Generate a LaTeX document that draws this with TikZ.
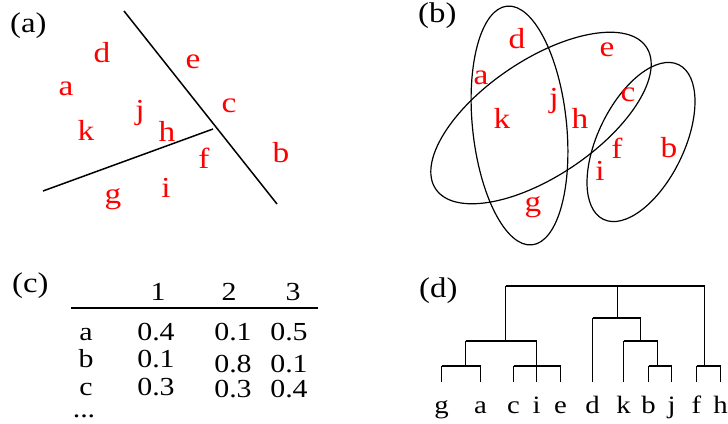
\documentclass[tikz,border=0pt]{standalone}
\usepackage{fontspec}
\setmainfont[FakeStretch=1.15]{Liberation Serif}
\begin{document}
\begin{tikzpicture}[x=1pt,y=-1pt,
  lbl/.style={inner sep=0pt, anchor=base west, font=\fontsize{28.5}{30}\selectfont},
  pt/.style={inner sep=0pt, anchor=base, text=red, font=\fontsize{29}{31}\selectfont},
  tab/.style={inner sep=0pt, anchor=base, font=\fontsize{26}{28}\selectfont},
  leaf/.style={inner sep=0pt, anchor=base, font=\fontsize{25}{28}\selectfont},
  ln/.style={line width=1.5pt},
  el/.style={line width=1.2pt},
  tree/.style={line width=1.4pt},
]
\useasboundingbox (0,0) rectangle (728,423);
% ---------- (a)
\node[lbl] (la) at (10,32) {(a)};
\coordinate (s1a) at (124,11); \coordinate (s1b) at (277,204);
\coordinate (s2a) at (43,191); \coordinate (s2b) at (213,129);
\draw[ln] (s1a) -- (s1b);
\draw[ln] (s2a) -- (s2b);
\node[pt] (ad) at (102,62) {d};
\node[pt] (ae) at (193,68) {e};
\node[pt] (aa) at (66,95) {a};
\node[pt] (ac) at (229,112) {c};
\node[pt] (aj) at (140,119) {j};
\node[pt] (ak) at (86,140) {k};
\node[pt] (ah) at (167,141) {h};
\node[pt] (ab) at (281,162) {b};
\node[pt] (af) at (204,168) {f};
\node[pt] (ai) at (166,197) {i};
\node[pt] (ag) at (113,203) {g};
% ---------- (b)
\node[lbl] (lb) at (418,23) {(b)};
\draw[el, rotate around={6:(519.5,125.5)}] (519.5,125.5) ellipse[x radius=47pt, y radius=120pt];
\draw[el, rotate around={34:(541,118)}] (541,118) ellipse[x radius=127pt, y radius=58pt];
\draw[el, rotate around={64:(641,142)}] (641,142) ellipse[x radius=86pt, y radius=43pt];
\node[pt] (bd) at (517,48) {d};
\node[pt] (be) at (607,56) {e};
\node[pt] (ba) at (481,84) {a};
\node[pt] (bc) at (628,101) {c};
\node[pt] (bj) at (554,107) {j};
\node[pt] (bk) at (502,128) {k};
\node[pt] (bh) at (580,128) {h};
\node[pt] (bf) at (617,158) {f};
\node[pt] (bb) at (669,157) {b};
\node[pt] (bi) at (600,180) {i};
\node[pt] (bg) at (533,211) {g};
% ---------- (c)
\node[lbl] (lc) at (12,292) {(c)};
\node[tab] (h1) at (158,300) {1};
\node[tab] (h2) at (229,300) {2};
\node[tab] (h3) at (293,300) {3};
\coordinate (r0) at (71,308); \coordinate (r1) at (318,308);
\draw[el] (r0) -- (r1);
\node[tab] (ra) at (86,340) {a};
\node[tab] (a1) at (156,340) {0.4};
\node[tab] (a2) at (233,340) {0.1};
\node[tab] (a3) at (289,340) {0.5};
\node[tab] (rb) at (86,367) {b};
\node[tab] (b1) at (156,367) {0.1};
\node[tab] (b2) at (233,372) {0.8};
\node[tab] (b3) at (289,372) {0.1};
\node[tab] (rc) at (86,395) {c};
\node[tab] (c1) at (156,395) {0.3};
\node[tab] (c2) at (233,397) {0.3};
\node[tab] (c3) at (289,397) {0.4};
\node[tab] (rd) at (84,417) {...};
% ---------- (d)
\node[lbl] (ld) at (419,297) {(d)};
\foreach \n/\x in {g/441.5,a/480.5,c/513.5,i/536.5,e/560.5,d/592.5,k/623.5,b/648.5,j/671.5,f/696.5,h/720.5}{
  \node[leaf] (L\n) at (\x,413) {\n};
}
\foreach \n/\x/\y in {g/441.5/366,a/480.5/366,c/513.5/366,i/536.5/341,e/560.5/366,d/592.5/318,k/623.5/341,b/648.5/366,j/671.5/366,f/696.5/366,h/720.5/366}{
  \coordinate (T\n) at (\x,\y);
  \coordinate (B\n) at (\x,382);
  \draw[tree] (T\n) -- (B\n);
}
\coordinate (ga) at (465.5,366);
\coordinate (gac) at (465.5,341);
\coordinate (left) at (505.5,341);
\coordinate (bj) at (657.5,366);
\coordinate (bjt) at (657.5,341);
\coordinate (kbj) at (640.5,341);
\coordinate (kbjt) at (640.5,318);
\coordinate (mid) at (617.5,318);
\coordinate (fh) at (704.5,366);
\coordinate (leftt) at (505.5,286);
\coordinate (midt) at (617.5,286);
\coordinate (fht) at (704.5,286);
\draw[tree] (Tg) -- (Ta);
\draw[tree] (ga) -- (gac);
\draw[tree] (Tc) -- (Te);
\draw[tree] (gac) -- (Ti);
\draw[tree] (left) -- (leftt);
\draw[tree] (Tb) -- (Tj);
\draw[tree] (bj) -- (bjt);
\draw[tree] (Tk) -- (bjt);
\draw[tree] (kbj) -- (kbjt);
\draw[tree] (Td) -- (kbjt);
\draw[tree] (mid) -- (midt);
\draw[tree] (Tf) -- (Th);
\draw[tree] (fh) -- (fht);
\draw[tree] (leftt) -- (fht);
\end{tikzpicture}
\end{document}
